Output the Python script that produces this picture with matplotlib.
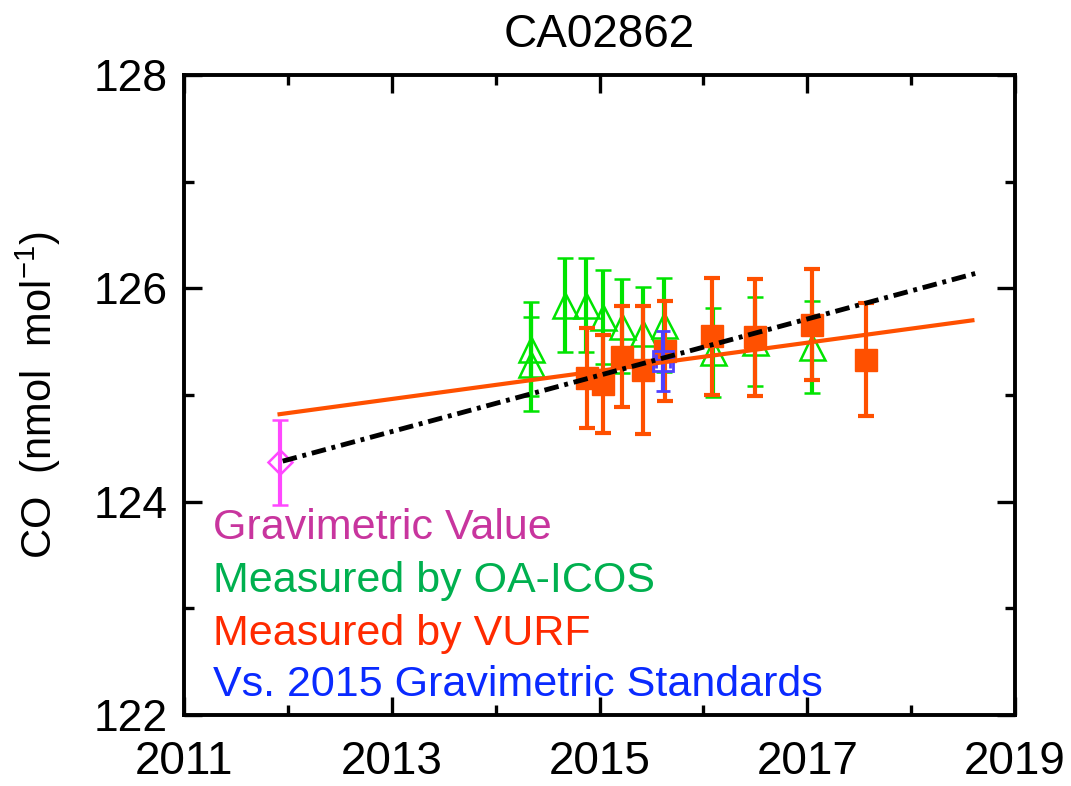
import matplotlib
matplotlib.use("Agg")
import matplotlib.pyplot as plt
from matplotlib.ticker import FixedLocator

plt.rcParams['font.family'] = ['Liberation Sans', 'DejaVu Sans']
plt.rcParams['mathtext.fontset'] = 'custom'
plt.rcParams['mathtext.rm'] = 'Liberation Sans'
plt.rcParams['mathtext.it'] = 'Liberation Sans'

# ---- data ----
grav_x = [2011.92]
grav_y = [124.37]
grav_err = [0.40]

icos_x = [2014.34, 2014.34, 2014.67, 2014.87, 2015.03, 2015.22, 2015.42, 2015.62, 2016.09, 2016.50, 2017.05]
icos_y = [125.43, 125.29, 125.84, 125.84, 125.73, 125.65, 125.58, 125.66, 125.40, 125.50, 125.45]
icos_err = [0.44, 0.44, 0.44, 0.44, 0.44, 0.44, 0.43, 0.44, 0.42, 0.42, 0.43]

vurf_x = [2014.88, 2015.03, 2015.22, 2015.42, 2015.63, 2016.08, 2016.50, 2017.05, 2017.57]
vurf_y = [125.16, 125.10, 125.36, 125.23, 125.41, 125.55, 125.54, 125.66, 125.33]
vurf_err = [0.47, 0.46, 0.47, 0.60, 0.47, 0.55, 0.55, 0.52, 0.53]

std_x = [2015.61]
std_y = [125.32]
std_err = [0.28]

fit_vurf_x = [2011.92, 2018.59]
fit_vurf_y = [124.82, 125.70]
fit_all_x = [2011.95, 2018.62]
fit_all_y = [124.38, 126.14]

x_major = [2011, 2013, 2015, 2017, 2019]
x_minor = [2012, 2014, 2016, 2018]
y_major = [122, 124, 126, 128]
y_minor = [123, 125, 127]

legend_labels = ["Gravimetric Value", "Measured by OA-ICOS",
                 "Measured by VURF", "Vs. 2015 Gravimetric Standards"]
legend_colors = ["#C8359E", "#00B04F", "#FF2A00", "#0A2AFF"]

# ---- figure ----
fig = plt.figure(figsize=(10.71, 7.86), dpi=100)
ax = fig.add_axes([184/1071, 1-715/786, (1015-184)/1071, (715-75)/786])

c_green = "#00E400"
c_orange = "#FF5000"
c_blue = "#5040FF"
c_mag = "#FF48FF"

ax.errorbar(icos_x, icos_y, yerr=icos_err, fmt='^', color=c_green,
            mfc='none', mec=c_green, ms=18, mew=1.8, elinewidth=3,
            capsize=6, capthick=3, zorder=2)
ax.errorbar(vurf_x, vurf_y, yerr=vurf_err, fmt='s', color=c_orange,
            mfc=c_orange, mec=c_orange, ms=16, elinewidth=3,
            capsize=6, capthick=3, zorder=3)
ax.errorbar(std_x, std_y, yerr=std_err, xerr=[0.07], fmt='s', color=c_blue,
            mfc='none', mec=c_blue, ms=15, mew=2, elinewidth=3,
            capsize=5, capthick=3, zorder=4)
ax.errorbar(grav_x, grav_y, yerr=grav_err, fmt='D', color=c_mag,
            mfc='none', mec=c_mag, ms=12, mew=1.8, elinewidth=3,
            capsize=6, capthick=3, zorder=4)

ax.plot(fit_vurf_x, fit_vurf_y, color=c_orange, lw=3, zorder=5)
ax.plot(fit_all_x, fit_all_y, color='black', lw=3.5, zorder=6,
        dashes=(3, 1.2, 0.8, 1.2))

ax.set_xlim(2011, 2019)
ax.set_ylim(122, 128)
ax.xaxis.set_major_locator(FixedLocator(x_major))
ax.xaxis.set_minor_locator(FixedLocator(x_minor))
ax.yaxis.set_major_locator(FixedLocator(y_major))
ax.yaxis.set_minor_locator(FixedLocator(y_minor))
ax.tick_params(which='both', direction='in', top=True, right=True, width=2.4)
ax.tick_params(which='major', length=13)
ax.tick_params(which='minor', length=7)
ax.tick_params(axis='x', which='major', labelsize=33, pad=18)
ax.tick_params(axis='y', which='major', labelsize=32, pad=12)
for s in ax.spines.values():
    s.set_linewidth(2.8)

ax.set_title("CA02862", fontsize=33, pad=20)
ax.set_ylabel("CO  (nmol  mol$^{-1}$)", fontsize=30, va='center')
ax.yaxis.set_label_coords((38-184)/831, 0.5)

ys = [528, 581, 634, 685]
for lab, col, yp in zip(legend_labels, legend_colors, ys):
    fig.text(213/1071, 1-yp/786, lab, color=col, fontsize=31,
             ha='left', va='center')

fig.savefig("out.png", dpi=100)
